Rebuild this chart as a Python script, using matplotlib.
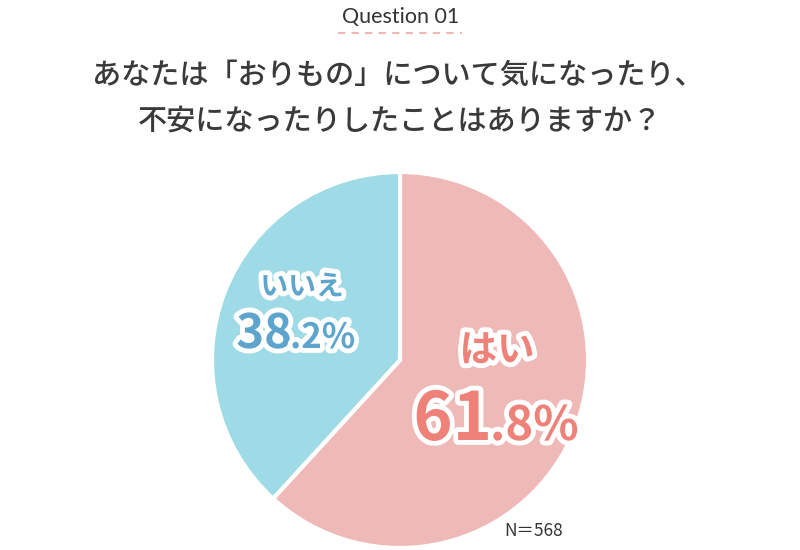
import matplotlib.pyplot as plt
import matplotlib.patheffects as pe

labels = ["はい", "いいえ"]
values = [61.8, 38.2]
colors = ["#EEB9B6", "#9FDBE6"]
text_colors = ["#EE8279", "#5EA5CD"]
n_total = 568

plt.rcParams["font.family"] = ["Noto Sans CJK JP", "DejaVu Sans"]

W, H = 800, 550
fig = plt.figure(figsize=(8, 5.5), dpi=100)
ax = fig.add_axes([0, 0, 1, 1])

def Y(y):
    return H - y

ax.pie(values, colors=colors, startangle=90, counterclock=False,
       center=(400, Y(360)), radius=188,
       wedgeprops=dict(edgecolor="white", linewidth=3))
ax.set_xlim(0, W)
ax.set_ylim(0, H)
ax.set_aspect("auto")
ax.axis("off")

# header
ax.text(401, Y(17), "Question 01", family="Lato", fontsize=15.5, color="#333333",
        ha="center", va="center")
ax.plot([338, 462], [Y(33), Y(33)], color="#F0B8B4", lw=1.5, ls=(0, (3.5, 3)))

ax.text(398, Y(75), "あなたは「おりもの」について気になったり、", fontsize=21,
        weight="medium", color="#3A3A3A", ha="center", va="center")
ax.text(400, Y(121), "不安になったりしたことはありますか？", fontsize=21,
        weight="medium", color="#3A3A3A", ha="center", va="center")

stroke = [pe.withStroke(linewidth=7, foreground="white")]

def pct_parts(v):
    whole, frac = f"{v:.1f}".split(".")
    return whole, "." + frac + "%"

# はい
ax.text(497, Y(350), labels[0], fontsize=27, weight="bold", color=text_colors[0],
        ha="center", va="center", path_effects=stroke)
w, f = pct_parts(values[0])
ax.text(492, Y(440), w, fontsize=48, weight="bold", color=text_colors[0],
        ha="right", va="baseline", path_effects=stroke)
ax.text(490, Y(440), f, fontsize=34, weight="bold", color=text_colors[0],
        ha="left", va="baseline", path_effects=stroke)

# いいえ
ax.text(302, Y(287), labels[1], fontsize=20, weight="bold", color=text_colors[1],
        ha="center", va="center", path_effects=stroke)
w, f = pct_parts(values[1])
ax.text(292, Y(348), w, fontsize=34, weight="bold", color=text_colors[1],
        ha="right", va="baseline", path_effects=stroke)
ax.text(290, Y(348), f, fontsize=25, weight="bold", color=text_colors[1],
        ha="left", va="baseline", path_effects=stroke)

ax.text(534, Y(531), f"N＝{n_total}", fontsize=12.5, color="#333333",
        ha="center", va="center")

fig.savefig("out.png", dpi=100)
